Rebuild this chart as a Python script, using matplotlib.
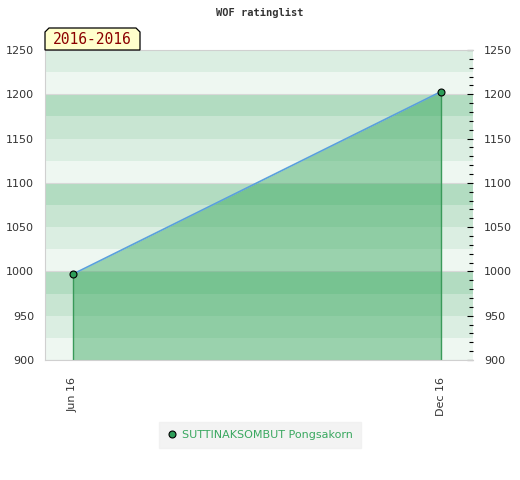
import matplotlib
matplotlib.use("Agg")
import matplotlib.pyplot as plt
from matplotlib.patches import Polygon
import numpy as np

# data
months = ["Jun 16", "Dec 16"]
ratings = [997, 1203]
player = "SUTTINAKSOMBUT Pongsakorn"
period = "2016-2016"

band_colors = ["#eef7f1", "#dbeee2", "#c8e5d2", "#b2dcc1"]

W, H = 520, 480
fig = plt.figure(figsize=(5.2, 4.8), dpi=100)
ax = fig.add_axes([45 / W, 120 / H, 428 / W, 310 / H])

# striped background, 25-point bands
for i, lo in enumerate(np.arange(900, 1250, 25)):
	ax.axhspan(lo, lo + 25, color=band_colors[i % 4], lw=0, zorder=0)
for y in range(900, 1251, 100):
	ax.axhline(y, color="#d8d8d8", lw=0.8, zorder=0.5)

x = np.arange(len(ratings))
ax.fill_between(x, ratings, 900, color="#27a150", alpha=0.42, lw=0, zorder=1)
ax.vlines(x, 900, ratings, color="#3a9a5a", lw=1, zorder=2)
ax.plot(x, ratings, color="#5aa0dc", lw=1.2, zorder=3)
ax.plot(x, ratings, "o", ms=5, mfc="#2e9e5a", mec="black", mew=0.8, zorder=4, label=player)

ax.set_xlim(-0.076, 1.087)
ax.set_ylim(900, 1250)
ax.set_xticks(x)
ax.set_xticklabels(months, rotation=90, fontsize=8, color="#333333")
ax.tick_params(axis="x", length=0, pad=12)

ax.set_yticks(np.arange(900, 1251, 50))
ax.tick_params(axis="y", which="both", left=False, right=True, labelleft=True,
	labelright=True, labelsize=8, labelcolor="#333333", direction="in", length=4,
	width=0.8, pad=8)
ax.set_yticks(np.arange(900, 1251, 10), minor=True)
ax.tick_params(axis="y", which="minor", length=3, right=True, left=False, direction="in")

for side in ["top", "left", "bottom"]:
	ax.spines[side].set_color("#d0d0d0")
ax.spines["right"].set_visible(False)

fig.text(0.5, 1 - 13 / H, "WOF ratinglist", ha="center", va="center",
	fontsize=7.5, fontweight="bold", family="DejaVu Sans Mono", color="#333333")

# period label box with chamfered top corners
x0, x1, y0, y1, c = 45, 140, 50, 28, 4
pts = [(x0, y0), (x0, y1 + c), (x0 + c, y1), (x1 - c, y1), (x1, y1 + c), (x1, y0)]
fig.patches.append(Polygon([(px / W, 1 - py / H) for px, py in pts], closed=True,
	transform=fig.transFigure, fc="#ffffcc", ec="black", lw=0.9, zorder=5))
fig.text((x0 + x1) / 2 / W, 1 - 39.5 / H, period, ha="center", va="center",
	fontsize=10.5, color="#8b0000", family="DejaVu Sans Mono", zorder=6)

leg = fig.legend(loc="center", bbox_to_anchor=(0.5, 1 - 435 / H), frameon=True,
	fontsize=8, handletextpad=0.4, borderpad=0.4, handlelength=1)
leg.get_frame().set_facecolor("#f0f0f0")
leg.get_frame().set_edgecolor("#f0f0f0")
leg.get_frame().set_boxstyle("square")
for t in leg.get_texts():
	t.set_color("#3aa860")

fig.savefig("out.png", dpi=100)
